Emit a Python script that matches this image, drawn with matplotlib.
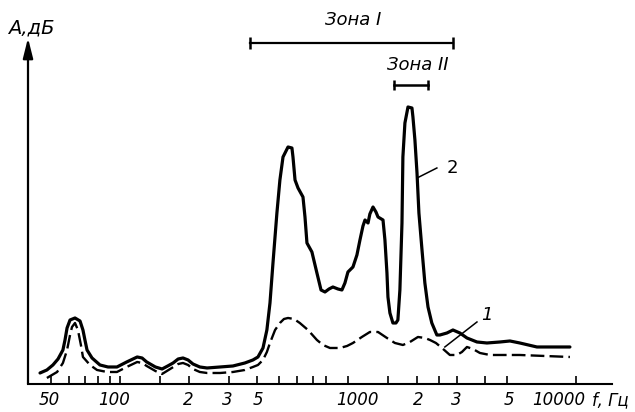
import matplotlib.pyplot as plt
from matplotlib.ticker import NullLocator

# кривая 2 (сплошная)
freq_solid = [44.6, 47.8, 50.8, 53.5, 56.2, 57.4, 58.6, 60.4, 63.5, 66.8, 68.8, 70.2, 71.7, 75.4,
              81.7, 88.6, 97, 107, 119, 125, 131, 143, 153, 162, 171, 180, 189, 199, 209, 224,
              241, 275, 313, 353, 383, 403, 424, 441, 455, 469, 488, 503, 519, 546, 568, 574,
              586, 604, 635, 648, 661, 695, 731, 762, 793, 826, 859, 904, 941, 970, 1000, 1052,
              1095, 1129, 1164, 1188, 1225, 1248, 1288, 1327, 1355, 1425, 1439, 1453, 1483, 1498,
              1528, 1575, 1624, 1656, 1690, 1726, 1742, 1778, 1834, 1909, 1928, 1967, 2009, 2048,
              2113, 2175, 2245, 2333, 2455, 2533, 2718, 2888, 3097, 3327, 3681, 4070, 4645, 5136,
              5675, 6745, 9413]
amp_solid = [11, 14, 19, 25, 34, 44, 56, 64, 66, 63, 54, 44, 34, 26,
             19, 17, 17, 22, 27, 26, 22, 17, 15, 18, 21, 25, 26, 24, 20, 17,
             16, 17, 18, 21, 24, 27, 36, 54, 81, 121, 171, 204, 227, 237, 236, 227,
             204, 196, 187, 167, 141, 132, 111, 94, 92, 95, 97, 95, 94, 101, 112, 117,
             129, 144, 158, 164, 161, 170, 177, 172, 167, 164, 154, 144, 111, 87,
             71, 61, 61, 64, 94, 161, 227, 261, 277, 276, 267, 244, 211, 171,
             134, 101, 77, 61, 49, 49, 51, 54, 51, 46, 42, 41, 42, 43,
             41, 37, 37]

# кривая 1 (штриховая)
freq_dash = [47.8, 53, 56.2, 58.6, 60.4, 61.6, 63.5, 65.4, 67.4, 68.8, 73.9, 79.3, 87.7, 97,
             107, 119, 125, 131, 143, 153, 166, 180, 189, 199, 209, 224, 241, 275, 313, 353,
             383, 403, 424, 441, 455, 479, 503, 524, 546, 580, 615, 668, 731, 777, 834, 922,
             991, 1052, 1151, 1248, 1355, 1483, 1607, 1742, 1871, 2028, 2175, 2290, 2432, 2585,
             2800, 3006, 3162, 3327, 3533, 3793, 4195, 5675, 9413]
amp_dash = [6, 12, 21, 34, 49, 57, 61, 54, 39, 27, 19, 14, 12, 12,
            17, 22, 21, 18, 13, 10, 15, 20, 21, 19, 15, 12, 11, 11, 12, 14,
            17, 19, 24, 32, 41, 54, 61, 65, 66, 65, 61, 54, 44, 39, 36, 36,
            38, 41, 47, 52, 52, 46, 41, 39, 42, 47, 46, 44, 41, 36,
            29, 29, 32, 37, 35, 31, 29, 29, 27]

tick_freqs = [50, 60, 70, 80, 90, 100, 150, 200, 300, 400, 500, 600, 700, 800,
              1000, 1500, 2000, 2500, 3000, 4000, 5000, 10000]
label_freqs = [50, 100, 200, 300, 500, 1000, 2000, 3000, 5000, 10000]
label_texts = ["50", "100", "2", "3", "5", "1000", "2", "3", "5", "10000"]

zone1 = [370, 2900]
zone2 = [1600, 2240]

fig = plt.figure(figsize=(6.35, 4.12), dpi=100)
ax = fig.add_axes([0.0441, 0.068, 0.9197, 0.932])
ax.set_xscale('log')
ax.set_xlim(39.5, 14400)
ax.set_ylim(0, 384)

ax.plot(freq_solid, amp_solid, color='black', lw=2.3, solid_joinstyle='round', solid_capstyle='round')
ax.plot(freq_dash, amp_dash, color='black', lw=1.7, dashes=(5.8, 2.2))

for s in ['top', 'right', 'left']:
    ax.spines[s].set_visible(False)
ax.spines['bottom'].set_linewidth(1.5)
ax.set_yticks([])
ax.set_xticks(tick_freqs)
ax.xaxis.set_minor_locator(NullLocator())
ax.set_xticklabels([])
ax.tick_params(axis='x', direction='in', length=6, width=1.2)

# ось А с указателем
ax.annotate('', xy=(0, 346), xytext=(0, 0), xycoords=('axes fraction', 'data'),
            textcoords=('axes fraction', 'data'), annotation_clip=False,
            arrowprops=dict(arrowstyle='-|>,head_length=1.2,head_width=0.3', color='black',
                            lw=1.6, shrinkA=0, shrinkB=0))

# подписи делений
label_dx = [-2, -6, 0, -1, -21, 9, 2, 0, 2, -17]
for f, t, dx in zip(label_freqs, label_texts, label_dx):
    ax.annotate(t, xy=(f, 0), xytext=(dx * 0.72, -11.5), textcoords='offset points',
                ha='center', va='center', fontsize=12, style='italic')

# зоны
ax.plot(zone1, [341, 341], color='black', lw=1.6, marker='|', ms=9, mew=1.8)
ax.plot(zone2, [299, 299], color='black', lw=1.8, marker='|', ms=7, mew=1.8)
ax.text(1052, 364, 'Зона I', ha='center', va='center', fontsize=13, style='italic')
ax.text(2028, 319, 'Зона II', ha='center', va='center', fontsize=13, style='italic')

# номера кривых
ax.plot([2010, 2455], [206, 216], color='black', lw=1.1)
ax.text(2858, 216, '2', ha='center', va='center', fontsize=13)
ax.plot([2661, 3681], [37, 62], color='black', lw=1.1)
ax.text(4074, 69, '1', ha='center', va='center', fontsize=13, style='italic')

fig.text(31 / 635, 1 - 28 / 412, 'А,дБ', ha='center', va='center', fontsize=14, style='italic')
fig.text(592 / 635, 1 - 400 / 412, 'f, Гц', ha='left', va='center', fontsize=12, style='italic')

fig.savefig('out.png', dpi=100)
